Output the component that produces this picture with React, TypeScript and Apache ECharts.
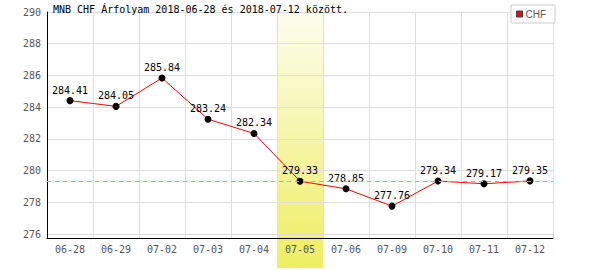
import React, { useEffect, useRef } from "react";
import * as echarts from "echarts";

const categories = ["06-28", "06-29", "07-02", "07-03", "07-04", "07-05", "07-06", "07-09", "07-10", "07-11", "07-12"];
const chfValues = [284.41, 284.05, 285.84, 283.24, 282.34, 279.33, 278.85, 277.76, 279.34, 279.17, 279.35];
const yTicks = [276, 278, 280, 282, 284, 286, 288, 290];
const yMin = 275.75;
const yMax = 290;
const highlightCategory = "07-05";
const referenceValue = 279.33;
const titleText = "MNB CHF Árfolyam 2018-06-28 és 2018-07-12 között.";
const seriesName = "CHF";

const MONO = "'DejaVu Sans Mono', monospace";

export default function App() {
  const ref = useRef<HTMLDivElement>(null);
  useEffect(() => {
    if (!ref.current) return;
    const chart = echarts.init(ref.current, undefined, { renderer: "svg" });
    const refLineStyle = { color: "#f09090", type: [4, 4] as number[], width: 1 };
    chart.setOption({
      animation: false,
      backgroundColor: "#ffffff",
      title: {
        text: titleText,
        left: 53,
        top: 4,
        padding: 0,
        textStyle: { fontFamily: MONO, fontSize: 10, fontWeight: "normal", color: "#000" },
      },
      legend: {
        left: 511,
        top: 5,
        orient: "vertical",
        backgroundColor: "#fff",
        borderColor: "#cccccc",
        borderWidth: 1,
        borderRadius: 0,
        padding: [4, 9, 4, 5],
        itemWidth: 6,
        itemHeight: 6,
        textStyle: { fontFamily: "'Liberation Sans', Arial, sans-serif", fontSize: 10, color: "#555", padding: [0, 0, 0, -2] },
        data: [{ name: seriesName, icon: "rect", itemStyle: { color: "#ff0000", borderColor: "#444", borderWidth: 1 } }],
      },
      grid: { left: 47, right: 47, top: 12, bottom: 32, containLabel: false },
      xAxis: {
        type: "category",
        data: categories,
        boundaryGap: true,
        axisLine: { show: true, lineStyle: { color: "#000", width: 1 } },
        axisTick: { show: false },
        splitLine: { show: true, interval: 0, lineStyle: { color: "#dddddd", width: 1 } },
        axisLabel: { interval: 0, margin: 6, color: "#555", fontFamily: MONO, fontSize: 10 },
      },
      yAxis: {
        type: "value",
        min: yMin,
        max: yMax,
        axisLine: { show: true, lineStyle: { color: "#000", width: 1 } },
        axisTick: { show: false, customValues: yTicks },
        splitLine: { show: true, lineStyle: { color: "#dddddd", width: 1 } },
        axisLabel: { customValues: yTicks, margin: 6, color: "#555", fontFamily: MONO, fontSize: 10 },
      },
      series: [
        {
          name: seriesName,
          type: "line",
          data: chfValues,
          symbol: "circle",
          symbolSize: 7,
          z: 3,
          lineStyle: { color: "#ff0000", width: 1 },
          itemStyle: { color: "#000" },
          label: {
            show: true,
            position: "top",
            distance: 2,
            color: "#000",
            fontFamily: MONO,
            fontSize: 10,
            formatter: (p: any) => Number(p.value).toFixed(2),
          },
          markLine: {
            silent: true,
            symbol: "none",
            label: { show: false },
            lineStyle: refLineStyle,
            emphasis: { disabled: true },
            data: [{ yAxis: referenceValue, lineStyle: refLineStyle }],
          },
        },
      ],
    });

    const cx = chart.convertToPixel({ xAxisIndex: 0 }, highlightCategory) as number;
    const idx = categories.indexOf(highlightCategory);
    const nextX = chart.convertToPixel({ xAxisIndex: 0 }, categories[idx + 1] ?? categories[idx - 1]) as number;
    const w = Math.abs(nextX - cx);
    const yTop = chart.convertToPixel({ yAxisIndex: 0 }, yMax) as number;
    chart.setOption({
      graphic: [
        {
          type: "rect",
          silent: true,
          z: -10,
          shape: { x: cx - w / 2, y: yTop, width: w, height: 268 - yTop },
          style: {
            fill: new echarts.graphic.LinearGradient(0, 0, 0, 1, [
              { offset: 0, color: "#fdfdf0" },
              { offset: 1, color: "#eeee60" },
            ]),
          },
        },
      ],
    });

    return () => chart.dispose();
  }, []);
  return <div ref={ref} style={{ position: "fixed", left: 0, top: 0, width: 600, height: 270 }} />;
}
